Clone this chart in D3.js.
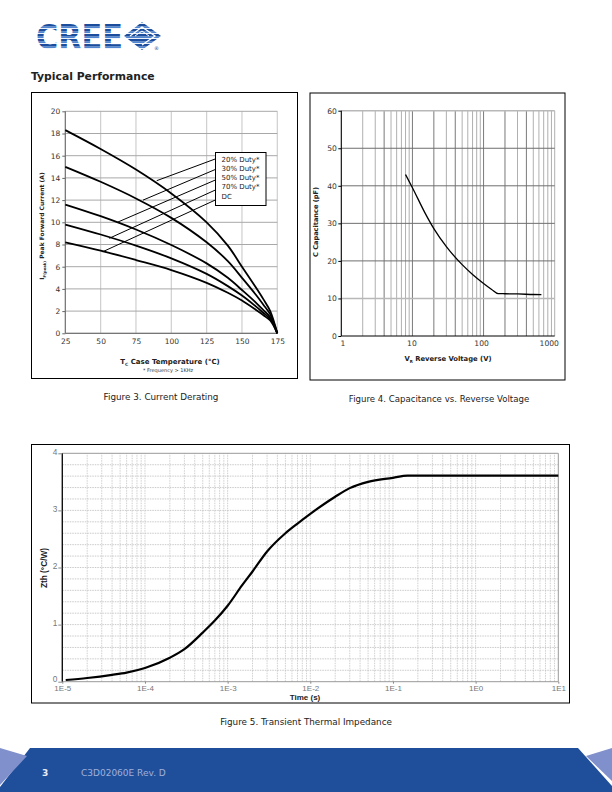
<!DOCTYPE html>
<html><head><meta charset="utf-8">
<script src="https://cdn.jsdelivr.net/npm/d3@7"></script>
<style>
body{margin:0;background:#fff}
svg{display:block}
</style>
</head><body>
<svg id="page" width="612" height="792" font-family="DejaVu Sans, Verdana, sans-serif"></svg>
<script>
// ---------------- DATA ----------------
// Figure 3: current derating
const derateTemps = [25, 50, 75, 100, 125, 140, 150, 160, 165, 170, 175];
const duty20 = [18.3, 16.6, 14.75, 12.6, 10.0, 7.9, 6.0, 4.1, 3.1, 2.0, 0];
const duty30 = [15.0, 13.65, 12.15, 10.4, 8.2, 6.5, 5.0, 3.45, 2.6, 1.7, 0];
const duty50 = [11.6, 10.55, 9.35, 7.95, 6.3, 5.0, 3.9, 2.75, 2.1, 1.45, 0];
const duty70 = [9.8, 8.9, 7.9, 6.75, 5.35, 4.25, 3.4, 2.4, 1.85, 1.3, 0];
const dutyDC = [8.2, 7.45, 6.6, 5.7, 4.55, 3.65, 2.95, 2.1, 1.65, 1.15, 0];
const derateLabels = ["20% Duty*", "30% Duty*", "50% Duty*", "70% Duty*", "DC"];
const pointerStartT = 131;
const pointerStartI = [15.7, 14.75, 13.8, 12.9, 12.0];
const pointerEndT = [89.7, 80, 61.8, 56.1, 51.5];
const pointerEndI = [13.75, 12.0, 10.0, 8.56, 7.35];
const derateXTicks = [25, 50, 75, 100, 125, 150, 175];
const derateYTicks = [0, 2, 4, 6, 8, 10, 12, 14, 16, 18, 20];

// Figure 4: capacitance vs reverse voltage
const capV = [8, 10, 15, 20, 30, 50, 70, 100, 130, 160, 200, 300, 500, 650];
const capC = [43, 39.5, 32.8, 28.6, 23.8, 19.0, 16.4, 14.0, 12.4, 11.3, 11.25, 11.2, 11.05, 11.0];
const capXTicks = [1, 10, 100, 1000];
const capYTicks = [0, 10, 20, 30, 40, 50, 60];

// Figure 5: transient thermal impedance
const thermT = [1.1e-5, 2e-5, 4e-5, 6e-5, 1e-4, 2e-4, 3e-4, 5e-4, 7e-4, 1e-3, 1.5e-3, 2e-3, 3e-3, 5e-3, 7e-3, 1e-2, 2e-2, 3e-2, 5e-2, 1e-1, 1.5e-1, 10];
const thermZ = [0.03, 0.065, 0.12, 0.16, 0.24, 0.42, 0.57, 0.86, 1.07, 1.33, 1.69, 1.93, 2.28, 2.6, 2.77, 2.94, 3.24, 3.39, 3.5, 3.57, 3.61, 3.61];
const thermXTicks = [1e-5, 1e-4, 1e-3, 1e-2, 1e-1, 1, 10];
const thermXLabels = ["1E-5", "1E-4", "1E-3", "1E-2", "1E-1", "1E0", "1E1"];
const thermYTicks = [0, 1, 2, 3, 4];

// ---------------- DRAWING ----------------
const svg = d3.select("#page");
const BLUE = "#1f4f9b";
const ARIAL = "Liberation Sans, Arial, sans-serif";
const VERD = "DejaVu Sans, Verdana, sans-serif";

// ---- Logo ----
const defs = svg.append("defs");
const pat = defs.append("pattern").attr("id", "stripes").attr("patternUnits", "userSpaceOnUse")
  .attr("x", 0).attr("y", 24).attr("width", 10).attr("height", 5);
pat.append("rect").attr("width", 10).attr("height", 5).attr("fill", "#ffffff");
pat.append("rect").attr("width", 10).attr("height", 2.6).attr("fill", "#1c4c9c");
pat.append("rect").attr("y", 2.6).attr("width", 10).attr("height", 1.5).attr("fill", "#4f86cf");
const logo = svg.append("g");
logo.append("text").attr("x", 36).attr("y", 49).attr("font-size", 34).attr("font-weight", "bold")
  .attr("font-family", VERD)
  .attr("textLength", 87).attr("lengthAdjust", "spacingAndGlyphs")
  .attr("fill", "url(#stripes)").text("CREE");
logo.append("path").attr("d", "M124,36 L142,22 L161,36 L142,50 Z").attr("fill", "url(#stripes)");
logo.append("path").attr("d", "M130,36 L142,27 L155,36 L142,45").attr("fill", "none").attr("stroke", "#fff").attr("stroke-width", 1.3);
logo.append("path").attr("d", "M135,36 L142,31 L149,36").attr("fill", "none").attr("stroke", "#fff").attr("stroke-width", 1);
logo.append("text").attr("x", 154).attr("y", 50).attr("font-size", 5).attr("fill", BLUE).text("®");

// ---- Section title ----
svg.append("text").attr("x", 31).attr("y", 80).attr("font-size", 10.8).attr("font-weight", "bold")
  .attr("fill", "#222").text("Typical Performance");

// ================= Figure 3 =================
svg.append("rect").attr("x", 31.5).attr("y", 92.5).attr("width", 266).attr("height", 286)
  .attr("fill", "none").attr("stroke", "#000").attr("stroke-width", 1);
const x1 = d3.scaleLinear().domain([25, 175]).range([65.3, 277.3]);
const y1 = d3.scaleLinear().domain([0, 20]).range([333.3, 111.3]);
const g1 = svg.append("g");
g1.selectAll("line.vg").data(derateXTicks).join("line")
  .attr("x1", d => x1(d)).attr("x2", d => x1(d)).attr("y1", y1(0)).attr("y2", y1(20))
  .attr("stroke", "#cfcfcf").attr("stroke-width", 1.2);
g1.selectAll("line.hg").data(derateYTicks).join("line")
  .attr("x1", x1(25)).attr("x2", x1(175)).attr("y1", d => y1(d)).attr("y2", d => y1(d))
  .attr("stroke", "#a8a8a8").attr("stroke-width", 1);
g1.append("line").attr("x1", x1(25)).attr("x2", x1(25)).attr("y1", y1(0)).attr("y2", y1(20)).attr("stroke", "#666");
g1.append("line").attr("x1", x1(25)).attr("x2", x1(175)).attr("y1", y1(0)).attr("y2", y1(0)).attr("stroke", "#666");
const ax1y = g1.append("g").attr("transform", `translate(${x1(25)},0)`)
  .call(d3.axisLeft(y1).tickValues(derateYTicks).tickSize(3).tickPadding(2));
const ax1x = g1.append("g").attr("transform", `translate(0,${y1(0)})`)
  .call(d3.axisBottom(x1).tickValues(derateXTicks).tickSize(0).tickPadding(5));
[ax1y, ax1x].forEach(a => {
  a.select(".domain").remove();
  a.selectAll("line").attr("stroke", "#666");
  a.selectAll("text").attr("font-size", 7.5).attr("fill", "#333").attr("font-family", VERD);
});

const line1 = d3.line().x((d, i) => x1(derateTemps[i])).y(d => y1(d)).curve(d3.curveCatmullRom.alpha(0.5));
[duty20, duty30, duty50, duty70, dutyDC].forEach(s => {
  g1.append("path").attr("d", line1(s)).attr("fill", "none").attr("stroke", "#000").attr("stroke-width", 1.8);
});
pointerStartI.forEach((v, i) => {
  g1.append("line").attr("x1", x1(pointerStartT)).attr("y1", y1(v))
    .attr("x2", x1(pointerEndT[i])).attr("y2", y1(pointerEndI[i]))
    .attr("stroke", "#000").attr("stroke-width", 1);
});
g1.append("rect").attr("x", 215.5).attr("y", 152.5).attr("width", 50.5).attr("height", 53)
  .attr("fill", "#fff").attr("stroke", "#000").attr("stroke-width", 1);
g1.selectAll("text.leg").data(derateLabels).join("text")
  .attr("x", 221.5).attr("y", (d, i) => 161.5 + i * 9.3)
  .attr("font-size", 7).attr("fill", "#222").text(d => d);

// axis titles
const t1 = svg.append("text").attr("x", 170).attr("y", 364).attr("text-anchor", "middle")
  .attr("font-size", 7).attr("font-weight", "bold").attr("fill", "#222");
t1.append("tspan").text("T");
t1.append("tspan").attr("font-size", 4.5).attr("dy", 1.5).text("C");
t1.append("tspan").attr("dy", -1.5).text(" Case Temperature (°C)");
svg.append("text").attr("x", 168).attr("y", 371.5).attr("text-anchor", "middle")
  .attr("font-size", 5).attr("fill", "#333").text("* Frequency > 1KHz");
const yl1 = svg.append("text").attr("transform", "translate(44,226) rotate(-90)").attr("text-anchor", "middle")
  .attr("font-size", 6).attr("font-weight", "bold").attr("fill", "#222");
yl1.append("tspan").text("I");
yl1.append("tspan").attr("font-size", 3.8).attr("dy", 1.5).text("F(peak)");
yl1.append("tspan").attr("dy", -1.5).text(" Peak Forward Current (A)");

svg.append("text").attr("x", 161).attr("y", 400).attr("text-anchor", "middle")
  .attr("font-size", 8.8).attr("fill", "#222").text("Figure 3. Current Derating");

// ================= Figure 4 =================
svg.append("rect").attr("x", 310).attr("y", 93).attr("width", 255).attr("height", 287)
  .attr("fill", "none").attr("stroke", "#000").attr("stroke-width", 1);
const x2 = d3.scaleLog().domain([1, 1000]).range([341.3, 554.7]);
const y2 = d3.scaleLinear().domain([0, 60]).range([336, 110.7]);
const g2 = svg.append("g");
const minorV = x2.ticks(30).filter(v => v >= 1 && v <= 1000);
g2.selectAll("line.vg").data(minorV).join("line")
  .attr("x1", d => x2(d)).attr("x2", d => x2(d)).attr("y1", y2(0)).attr("y2", y2(60))
  .attr("stroke", d => [4, 10, 20, 40, 100, 200, 400].includes(d) ? "#7a7a7a" : "#b0b0b0").attr("stroke-width", 1);
g2.selectAll("line.hg").data(capYTicks.filter(d => d > 0)).join("line")
  .attr("x1", x2(1)).attr("x2", x2(1000)).attr("y1", d => y2(d)).attr("y2", d => y2(d))
  .attr("stroke", d => (d === 10 || d === 60) ? "#b8b8b8" : "#6e6e6e").attr("stroke-width", d => (d === 10 || d === 60) ? 1.6 : 1);
g2.append("line").attr("x1", x2(1)).attr("x2", x2(1)).attr("y1", y2(0)).attr("y2", y2(60)).attr("stroke", "#000");
g2.append("line").attr("x1", x2(1)).attr("x2", x2(1000)).attr("y1", y2(0)).attr("y2", y2(0)).attr("stroke", "#000");
const ax2y = g2.append("g").attr("transform", `translate(${x2(1)},0)`)
  .call(d3.axisLeft(y2).tickValues(capYTicks).tickSize(3).tickPadding(1.5));
const ax2x = g2.append("g").attr("transform", `translate(0,${y2(0)})`)
  .call(d3.axisBottom(x2).tickValues(capXTicks).tickFormat(d3.format("d")).tickSize(0).tickPadding(5));
[ax2y, ax2x].forEach(a => {
  a.select(".domain").remove();
  a.selectAll("line").attr("stroke", "#000");
  a.selectAll("text").attr("font-size", 7.6).attr("fill", "#333").attr("font-family", VERD);
});
const capLabelShift = [1, -1, -2.5, -6];
ax2x.selectAll("text").attr("dx", (d, i) => capLabelShift[i]);
const line2 = d3.line().x((d, i) => x2(capV[i])).y(d => y2(d)).curve(d3.curveMonotoneX);
g2.append("path").attr("d", line2(capC)).attr("fill", "none").attr("stroke", "#000").attr("stroke-width", 1.3);

const t2 = svg.append("text").attr("x", 448).attr("y", 361).attr("text-anchor", "middle")
  .attr("font-size", 6.8).attr("font-weight", "bold").attr("fill", "#222");
t2.append("tspan").text("V");
t2.append("tspan").attr("font-size", 4).attr("dy", 1.5).text("R");
t2.append("tspan").attr("dy", -1.5).text(" Reverse Voltage (V)");
svg.append("text").attr("transform", "translate(318,222) rotate(-90)").attr("text-anchor", "middle")
  .attr("font-size", 6.6).attr("font-weight", "bold").attr("fill", "#222").text("C Capacitance (pF)");
svg.append("text").attr("x", 439).attr("y", 402).attr("text-anchor", "middle")
  .attr("font-size", 8.6).attr("fill", "#222").text("Figure 4. Capacitance vs. Reverse Voltage");

// ================= Figure 5 =================
svg.append("rect").attr("x", 31.5).attr("y", 444.5).attr("width", 538).attr("height", 258.5)
  .attr("fill", "none").attr("stroke", "#000").attr("stroke-width", 1);
const x3 = d3.scaleLog().domain([1e-5, 10]).range([62.3, 558.3]);
const y3 = d3.scaleLinear().domain([0, 4]).range([681.7, 453.3]);
const g3 = svg.append("g");
const minor3 = x3.ticks(60).filter(v => v > 1e-5 && v < 10);
g3.selectAll("line.vg").data(minor3).join("line")
  .attr("x1", d => x3(d)).attr("x2", d => x3(d)).attr("y1", y3(0)).attr("y2", y3(4))
  .attr("stroke", "#c4c4c4").attr("stroke-width", 0.8).attr("stroke-dasharray", "1.5,1");
const hgrid3 = d3.range(1, 20).map(i => i * 0.2);
g3.selectAll("line.hg").data(hgrid3).join("line")
  .attr("x1", x3(1e-5)).attr("x2", x3(10)).attr("y1", d => y3(d)).attr("y2", d => y3(d))
  .attr("stroke", "#bdbdbd").attr("stroke-width", 0.8).attr("stroke-dasharray", "1.5,1");
g3.append("line").attr("x1", x3(1e-5)).attr("x2", x3(10)).attr("y1", y3(4)).attr("y2", y3(4)).attr("stroke", "#999");
g3.append("line").attr("x1", x3(10)).attr("x2", x3(10)).attr("y1", y3(0)).attr("y2", y3(4)).attr("stroke", "#999");
g3.append("line").attr("x1", x3(1e-5)).attr("x2", x3(10)).attr("y1", y3(0)).attr("y2", y3(0)).attr("stroke", "#999");
g3.append("line").attr("x1", x3(1e-5)).attr("x2", x3(1e-5)).attr("y1", y3(0)).attr("y2", y3(4)).attr("stroke", "#111").attr("stroke-width", 1.4);
const ax3y = g3.append("g").attr("transform", `translate(${x3(1e-5)},0)`)
  .call(d3.axisLeft(y3).tickValues(thermYTicks).tickFormat(d3.format("d")).tickSize(4).tickPadding(1));
const ax3x = g3.append("g").attr("transform", `translate(0,${y3(0)})`)
  .call(d3.axisBottom(x3).tickValues(thermXTicks).tickFormat((d, i) => thermXLabels[i]).tickSize(2).tickPadding(1.5));
[ax3y, ax3x].forEach(a => {
  a.select(".domain").remove();
  a.selectAll("line").attr("stroke", "#888");
  a.selectAll("text").attr("font-family", ARIAL).attr("fill", "#777");
});
ax3y.selectAll("text").attr("font-size", 8.3).attr("dy", d => d === 0 ? "0em" : "0.15em");
ax3x.selectAll("text").attr("font-size", 8);
const line3 = d3.line().x((d, i) => x3(thermT[i])).y(d => y3(d)).curve(d3.curveMonotoneX);
g3.append("path").attr("d", line3(thermZ)).attr("fill", "none").attr("stroke", "#000").attr("stroke-width", 2.2);

svg.append("text").attr("x", 305).attr("y", 700).attr("text-anchor", "middle")
  .attr("font-family", ARIAL)
  .attr("font-size", 8).attr("font-weight", "bold").attr("fill", "#222").text("Time (s)");
svg.append("text").attr("transform", "translate(47,568) rotate(-90)").attr("text-anchor", "middle")
  .attr("font-family", ARIAL)
  .attr("font-size", 8.3).attr("font-weight", "bold").attr("fill", "#222").text("Zth (°C/W)");
svg.append("text").attr("x", 306).attr("y", 725).attr("text-anchor", "middle")
  .attr("font-size", 8.8).attr("fill", "#222").text("Figure 5. Transient Thermal Impedance");

// ---- Footer ----
svg.append("path").attr("d", "M30,748 L578,748 L612,786 L612,792 L0,792 L0,787 Z").attr("fill", BLUE);
svg.append("path").attr("d", "M0,748 L27,756 L0,785 Z").attr("fill", "#8090cc");
svg.append("path").attr("d", "M612,748 L586,756 L612,781 Z").attr("fill", "#8090cc");
svg.append("text").attr("x", 42).attr("y", 776).attr("font-size", 9).attr("font-weight", "bold")
  .attr("fill", "#e8ecf8").text("3");
svg.append("text").attr("x", 81).attr("y", 776).attr("font-size", 9)
  .attr("fill", "#9fb0da").text("C3D02060E Rev. D");
</script>
</body></html>
